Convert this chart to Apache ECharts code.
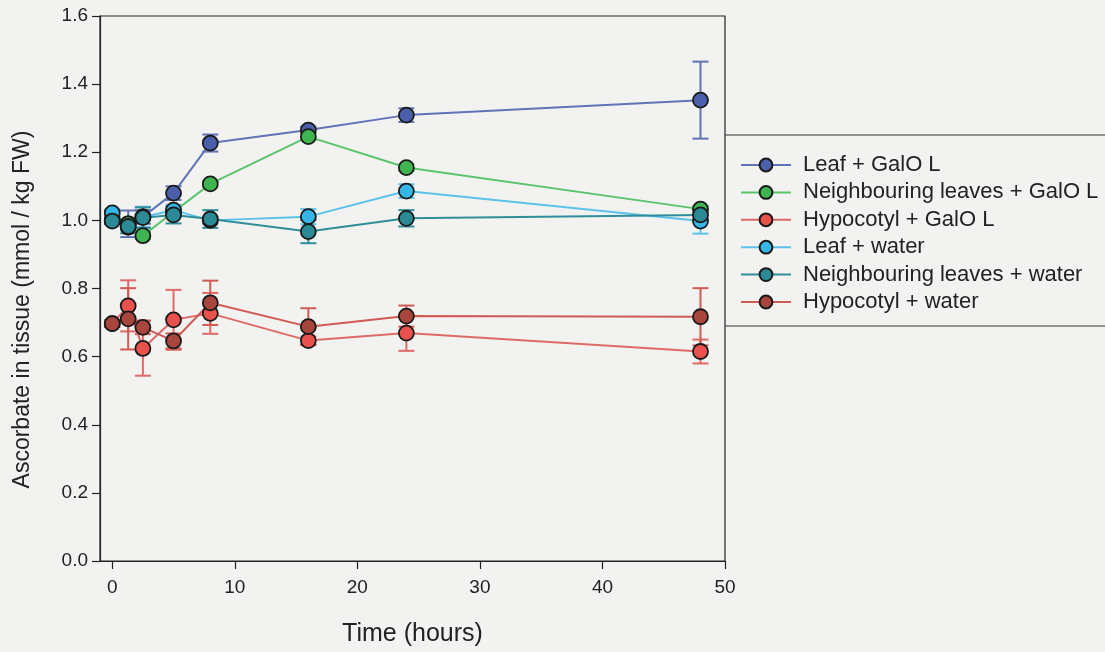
<!DOCTYPE html>
<html>
<head>
<meta charset="utf-8">
<script src="https://cdn.jsdelivr.net/npm/echarts@6/dist/echarts.min.js"></script>
<style>
html,body{margin:0;padding:0;background:#f2f2f0;}
#c{width:1105px;height:652px;}
</style>
</head>
<body>
<div id="c"></div>
<script>
const times = [0, 1.3, 2.5, 5, 8, 16, 24, 48];
const xTicks = [0, 10, 20, 30, 40, 50];

const seriesNames = ['Leaf + GalO L', 'Neighbouring leaves + GalO L', 'Hypocotyl + GalO L', 'Leaf + water', 'Neighbouring leaves + water', 'Hypocotyl + water'];

const leafGalO      = [1.000, 0.990, 1.010, 1.080, 1.227, 1.265, 1.309, 1.353];
const leafGalOErr   = [0.010, 0.039, 0.020, 0.020, 0.025, 0.010, 0.020, 0.113];
const neighGalO     = [1.000, 0.990, 0.955, 1.025, 1.107, 1.246, 1.155, 1.033];
const neighGalOErr  = [0.010, 0.010, 0.010, 0.010, 0.010, 0.010, 0.010, 0.010];
const hypoGalO      = [0.697, 0.749, 0.624, 0.708, 0.727, 0.647, 0.669, 0.615];
const hypoGalOErr   = [0.010, 0.075, 0.080, 0.088, 0.060, 0.012, 0.052, 0.035];
const leafWater     = [1.022, 0.980, 1.010, 1.030, 1.000, 1.011, 1.086, 0.998];
const leafWaterErr  = [0.010, 0.010, 0.030, 0.015, 0.010, 0.022, 0.020, 0.037];
const neighWater    = [0.998, 0.982, 1.008, 1.016, 1.004, 0.967, 1.006, 1.016];
const neighWaterErr = [0.010, 0.020, 0.030, 0.025, 0.026, 0.034, 0.024, 0.015];
const hypoWater     = [0.697, 0.711, 0.686, 0.646, 0.758, 0.688, 0.719, 0.717];
const hypoWaterErr  = [0.010, 0.090, 0.020, 0.022, 0.065, 0.054, 0.031, 0.084];

const values = [leafGalO, neighGalO, hypoGalO, leafWater, neighWater, hypoWater];
const errors = [leafGalOErr, neighGalOErr, hypoGalOErr, leafWaterErr, neighWaterErr, hypoWaterErr];
const fillColors = ['#4b5fab', '#3fb552', '#e8514c', '#36b6e6', '#2b8a96', '#a8453c'];
const lineColors = ['#6272b6', '#5cc46c', '#e06a68', '#5cc2ea', '#2f8e9a', '#d05a54'];

const chart = echarts.init(document.getElementById('c'));
const font = 'Liberation Sans, Arial, sans-serif';

const series = [];
seriesNames.forEach((name, i) => {
  const data = times.map((t, k) => [t, values[i][k] - errors[i][k], values[i][k] + errors[i][k]]);
  series.push({
    type: 'custom',
    name: name + ' err',
    z: 2,
    silent: true,
    data: data,
    encode: { x: 0, y: [1, 2] },
    renderItem: function (params, api) {
      const x = api.value(0);
      const lo = api.coord([x, api.value(1)]);
      const hi = api.coord([x, api.value(2)]);
      const w = 8;
      const st = { stroke: lineColors[i], lineWidth: 2 };
      return {
        type: 'group',
        children: [
          { type: 'line', shape: { x1: lo[0], y1: lo[1], x2: hi[0], y2: hi[1] }, style: st },
          { type: 'line', shape: { x1: lo[0] - w, y1: lo[1], x2: lo[0] + w, y2: lo[1] }, style: st },
          { type: 'line', shape: { x1: hi[0] - w, y1: hi[1], x2: hi[0] + w, y2: hi[1] }, style: st }
        ]
      };
    }
  });
});
seriesNames.forEach((name, i) => {
  series.push({
    type: 'line',
    name: name,
    z: 3,
    data: times.map((t, k) => [t, values[i][k]]),
    symbol: 'circle',
    symbolSize: 15,
    lineStyle: { color: lineColors[i], width: 2 },
    itemStyle: { color: fillColors[i], borderColor: '#1a1a1a', borderWidth: 1.8 },
    emphasis: { disabled: true },
    animation: false
  });
});

chart.setOption({
  animation: false,
  backgroundColor: '#f2f2f0',
  textStyle: { fontFamily: font },
  grid: { left: 100, right: 380, top: 16, bottom: 91, show: true, borderColor: '#222', borderWidth: 1.2, backgroundColor: 'transparent' },
  legend: {
    data: seriesNames,
    orient: 'vertical',
    left: 740,
    top: 154,
    padding: 0,
    itemWidth: 50,
    itemHeight: 16,
    itemGap: 5.4,
    textStyle: { fontSize: 22, lineHeight: 22, color: '#222', fontFamily: font, padding: [0, 0, 0, 7] },
    selectedMode: false
  },
  xAxis: {
    type: 'value',
    min: -1,
    max: 50,
    name: 'Time (hours)',
    nameLocation: 'middle',
    nameGap: 61,
    nameTextStyle: { fontSize: 25, color: '#222' },
    axisLine: { onZero: false, lineStyle: { color: '#222', width: 1.2 } },
    axisTick: { show: true, inside: false, length: 8, customValues: xTicks, lineStyle: { color: '#222', width: 1.2 } },
    axisLabel: { fontSize: 19, color: '#222', margin: 17, customValues: xTicks },
    splitLine: { show: false }
  },
  yAxis: {
    type: 'value',
    min: 0,
    max: 1.6,
    interval: 0.2,
    name: 'Ascorbate in tissue (mmol / kg FW)',
    nameLocation: 'middle',
    nameGap: 66,
    nameTextStyle: { fontSize: 23, color: '#222', padding: [0, 42, 0, 0] },
    axisLine: { show: true, onZero: false, lineStyle: { color: '#222', width: 1.2 } },
    axisTick: { show: true, inside: false, length: 8, lineStyle: { color: '#222', width: 1.2 } },
    axisLabel: { fontSize: 19, color: '#222', margin: 12, formatter: v => v.toFixed(1) },
    splitLine: { show: false }
  },
  graphic: [
    { type: 'line', shape: { x1: 725, y1: 135, x2: 1105, y2: 135 }, style: { stroke: '#333', lineWidth: 1.2 } },
    { type: 'line', shape: { x1: 725, y1: 326, x2: 1105, y2: 326 }, style: { stroke: '#333', lineWidth: 1.2 } }
  ],
  series: series
});
</script>
</body>
</html>
